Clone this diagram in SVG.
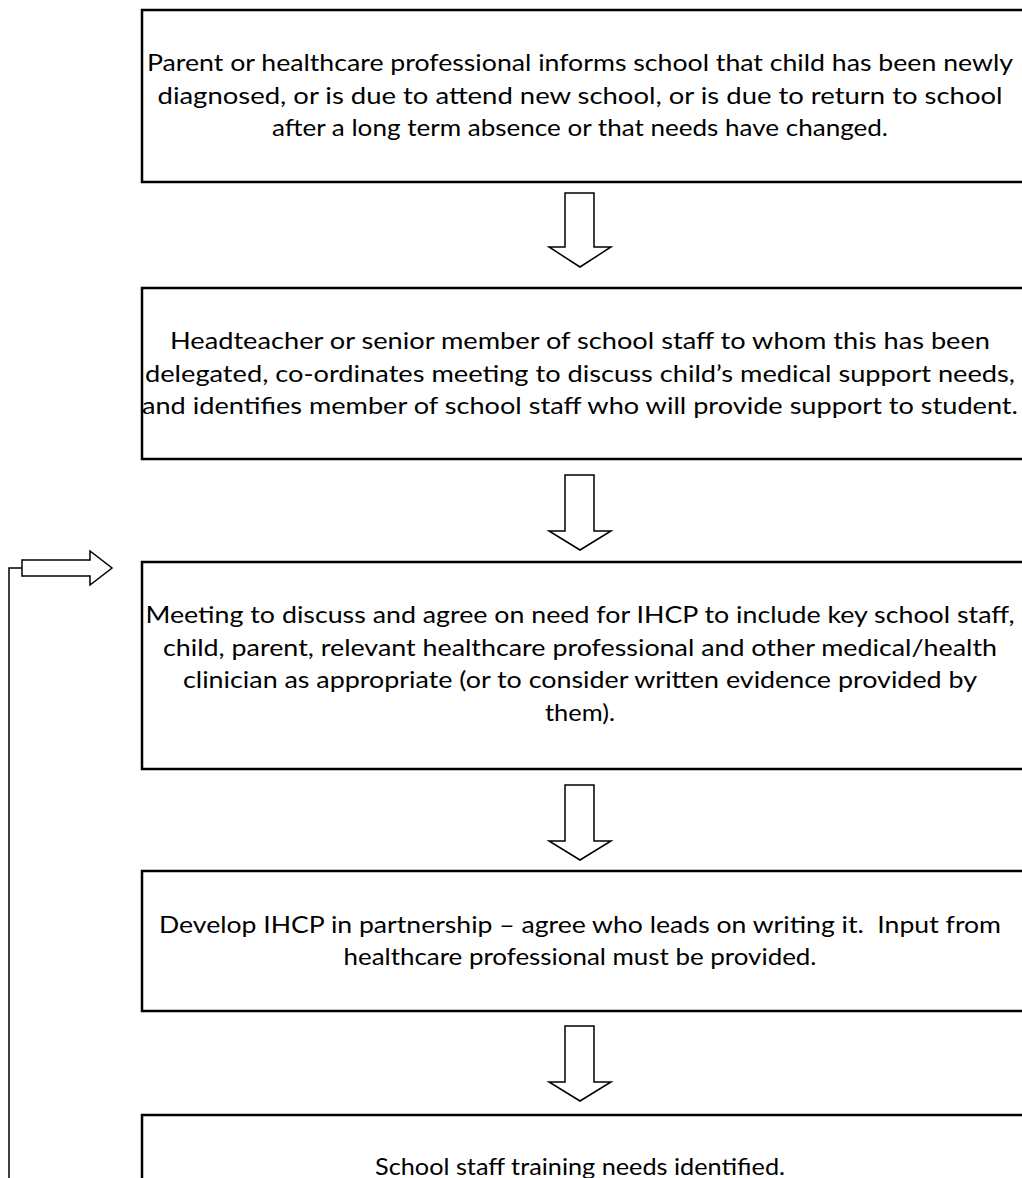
<svg xmlns="http://www.w3.org/2000/svg" width="1022" height="1178" viewBox="0 0 1022 1178">
<style>
.box{fill:#fff;stroke:#000;stroke-width:2.5}
.arr{fill:#fff;stroke:#000;stroke-width:1.5;stroke-linejoin:miter}
.ln{fill:none;stroke:#000;stroke-width:1.5}
text{font-family:Lato,"Open Sans","Liberation Sans",sans-serif;font-size:24px;fill:#000;text-anchor:middle}
</style>
<rect width="1022" height="1178" fill="#fff"/>
<g id="connectors">
<polygon class="arr" points="565,193 594,193 594,247 611,247 580,267 549,247 565,247"/>
<polygon class="arr" points="565,475 594,475 594,531 611,531 580,550 549,531 565,531"/>
<polygon class="arr" points="565,785 594,785 594,841 611,841 580,860 549,841 565,841"/>
<polygon class="arr" points="565,1026 594,1026 594,1082 611,1082 580,1101 549,1082 565,1082"/>
<polyline class="ln" points="9,1180 9,568 22,568"/>
<polygon class="arr" points="22,560 90,560 90,551 112,568 90,585 90,576 22,576"/>
</g>
<g id="node1">
<rect class="box" x="142" y="10" width="890" height="172"/>
<text x="580" y="71" textLength="866" lengthAdjust="spacingAndGlyphs">Parent or healthcare professional informs school that child has been newly</text>
<text x="580" y="104" textLength="845" lengthAdjust="spacingAndGlyphs">diagnosed, or is due to attend new school, or is due to return to school</text>
<text x="580" y="136" textLength="616" lengthAdjust="spacingAndGlyphs">after a long term absence or that needs have changed.</text>
</g>
<g id="node2">
<rect class="box" x="142" y="288" width="890" height="171"/>
<text x="580" y="349" textLength="820" lengthAdjust="spacingAndGlyphs">Headteacher or senior member of school staff to whom this has been</text>
<text x="580" y="382" textLength="870" lengthAdjust="spacingAndGlyphs">delegated, co-ordinates meeting to discuss child’s medical support needs,</text>
<text x="580" y="414" textLength="876" lengthAdjust="spacingAndGlyphs">and identifies member of school staff who will provide support to student.</text>
</g>
<g id="node3">
<rect class="box" x="142" y="562" width="890" height="207"/>
<text x="580" y="623" textLength="869" lengthAdjust="spacingAndGlyphs">Meeting to discuss and agree on need for IHCP to include key school staff,</text>
<text x="580" y="656" textLength="834" lengthAdjust="spacingAndGlyphs">child, parent, relevant healthcare professional and other medical/health</text>
<text x="580" y="688" textLength="794" lengthAdjust="spacingAndGlyphs">clinician as appropriate (or to consider written evidence provided by</text>
<text x="580" y="721" textLength="70" lengthAdjust="spacingAndGlyphs">them).</text>
</g>
<g id="node4">
<rect class="box" x="142" y="871" width="890" height="140"/>
<text x="580" y="933" textLength="842" lengthAdjust="spacingAndGlyphs" xml:space="preserve">Develop IHCP in partnership – agree who leads on writing it.  Input from</text>
<text x="580" y="965" textLength="473" lengthAdjust="spacingAndGlyphs">healthcare professional must be provided.</text>
</g>
<g id="node5">
<rect class="box" x="142" y="1115" width="890" height="100"/>
<text x="580" y="1175" textLength="410" lengthAdjust="spacingAndGlyphs">School staff training needs identified.</text>
</g>
</svg>
